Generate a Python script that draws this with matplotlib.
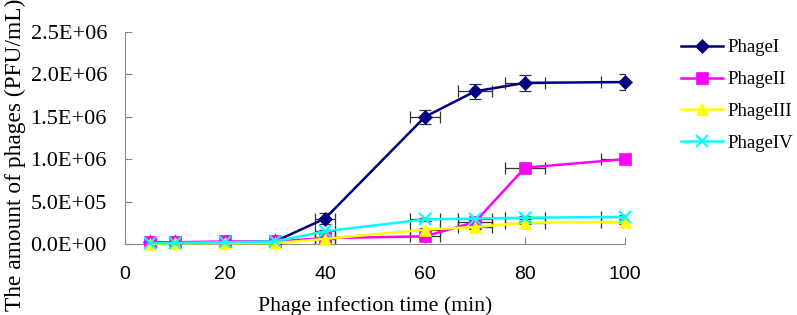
import matplotlib
matplotlib.use("Agg")
import matplotlib.pyplot as plt
from matplotlib.lines import Line2D

times = [5, 10, 20, 30, 40, 60, 70, 80, 100]
phage1 = [0.02e6, 0.02e6, 0.02e6, 0.03e6, 0.30e6, 1.50e6, 1.80e6, 1.90e6, 1.91e6]
phage2 = [0.02e6, 0.02e6, 0.03e6, 0.03e6, 0.07e6, 0.09e6, 0.26e6, 0.90e6, 1.00e6]
phage3 = [0.00e6, 0.01e6, 0.01e6, 0.01e6, 0.06e6, 0.17e6, 0.20e6, 0.25e6, 0.26e6]
phage4 = [0.01e6, 0.01e6, 0.02e6, 0.03e6, 0.15e6, 0.29e6, 0.30e6, 0.31e6, 0.32e6]
xerr = [0, 0, 0, 0, 2, 3, 3.4, 4, 4.8]
yerr1 = [0, 0, 0, 0, 0.07e6, 0.08e6, 0.09e6, 0.09e6, 0.09e6]
yerr_small = [0, 0, 0, 0, 0.02e6, 0.02e6, 0.02e6, 0.02e6, 0.02e6]
names = ["PhageI", "PhageII", "PhageIII", "PhageIV"]
colors = ["#000080", "#FF00FF", "#FFFF00", "#00FFFF"]
markers = ["D", "s", "^", "x"]
msizes = [7, 8, 8, 8]
yticks = [0, 0.5e6, 1.0e6, 1.5e6, 2.0e6, 2.5e6]
ytick_labels = ["0.0E+00", "5.0E+05", "1.0E+06", "1.5E+06", "2.0E+06", "2.5E+06"]
xticks = [0, 20, 40, 60, 80, 100]

fig = plt.figure(figsize=(7.97, 3.15), dpi=100)
ax = fig.add_axes([125/797, (315-244)/315, 500/797, (244-32)/315])

series = [phage1, phage2, phage3, phage4]
yerrs = [yerr1, yerr_small, yerr_small, yerr_small]
for i, ys in enumerate(series):
    ax.errorbar(times, ys, xerr=xerr, yerr=yerrs[i], fmt="none", ecolor="#333333",
                elinewidth=0.9, capsize=4, capthick=0.9, zorder=2)
for i, (ys, c, m, ms) in enumerate(zip(series, colors, markers, msizes)):
    ax.plot(times, ys, color=c, marker=m, markersize=ms, lw=1.8,
            markeredgewidth=1.5 if m == "x" else 0.5, markeredgecolor=c, zorder=3, clip_on=False)

ax.set_xlim(0, 100)
ax.set_ylim(0, 2.5e6)
ax.set_xticks(xticks)
ax.set_xticklabels([str(t) for t in xticks], fontfamily="Liberation Sans", fontsize=14)
ax.set_yticks(yticks)
ax.set_yticklabels(ytick_labels, fontfamily="Liberation Serif", fontsize=16)
ax.tick_params(direction="in", color="#888888", length=5)
ax.tick_params(axis="x", pad=16)
ax.tick_params(axis="y", pad=13)
for s in ["top", "right"]:
    ax.spines[s].set_visible(False)
for s in ["left", "bottom"]:
    ax.spines[s].set_color("#888888")
ax.set_xlabel("Phage infection time (min)", fontfamily="Liberation Serif", fontsize=15.7, labelpad=9)
ax.set_ylabel("The amount of phages (PFU/mL)", fontfamily="Liberation Serif", fontsize=16.8)
ax.yaxis.set_label_coords(-0.198, 0.42)

handles = [Line2D([0], [0], color=c, marker=m, markersize=ms, lw=1.8,
                  markeredgewidth=1.5 if m == "x" else 0.5, markeredgecolor=c)
           for c, m, ms in zip(colors, markers, msizes)]
fig.legend(handles, names, loc="upper left", bbox_to_anchor=(672/797, 1 - 30/315),
           frameon=False, prop={"family": "Liberation Serif", "size": 13.5},
           handlelength=2.2, labelspacing=0.78, borderpad=0, handletextpad=0.25)

fig.savefig("out.png", dpi=100)
